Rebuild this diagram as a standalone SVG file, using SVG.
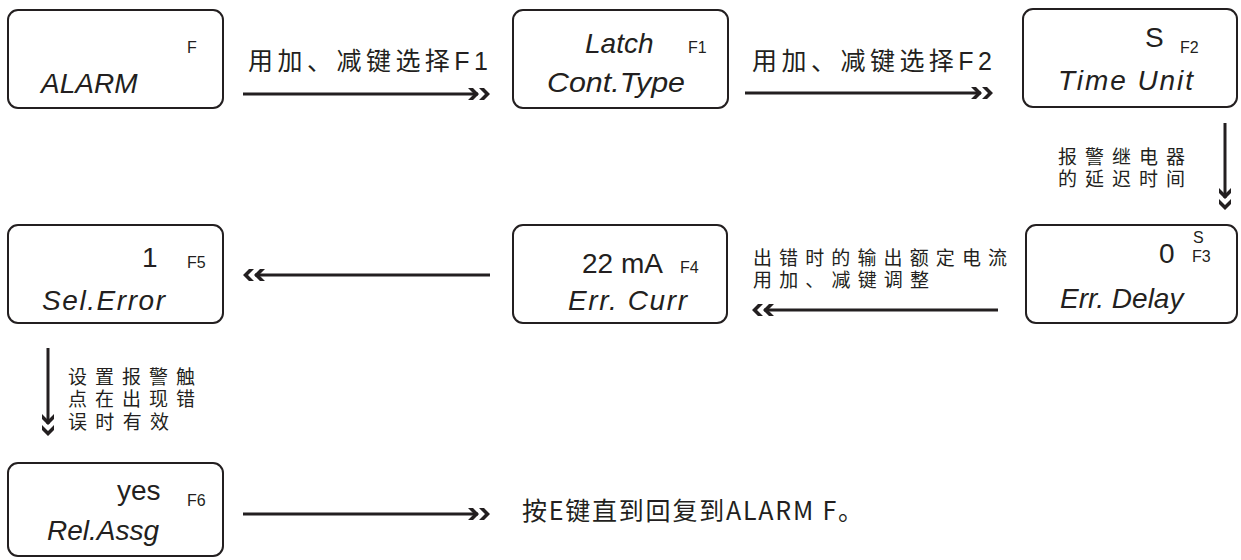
<svg xmlns="http://www.w3.org/2000/svg" xmlns:xlink="http://www.w3.org/1999/xlink" width="1241" height="560" viewBox="0 0 1241 560">
<style>
.box{fill:#fff;stroke:#231f20;stroke-width:2}
.lab{font-family:"Liberation Sans",Arial,sans-serif;font-style:italic;font-size:28px;fill:#231f20}
.val{font-family:"Liberation Sans",Arial,sans-serif;font-size:28px;fill:#231f20}
.sm{font-family:"Liberation Sans",Arial,sans-serif;font-size:16px;fill:#231f20}
.cn{font-family:"Liberation Sans","Noto Sans CJK SC",sans-serif;font-size:25px;fill:#231f20}
.cn2{font-family:"Liberation Sans","Noto Sans CJK SC",sans-serif;font-size:19px;fill:#231f20}
.end{font-family:"Noto Sans CJK SC",sans-serif;font-size:25px;fill:#231f20}
.ln{stroke:#231f20;stroke-width:3;fill:none}
</style>
<defs>
<path id="chev" d="M-22,-6 L-17,-6 L-11,0 L-17,6 L-22,6 L-16,0 Z M-11,-6 L-6,-6 L0,0 L-6,6 L-11,6 L-5,0 Z" fill="#231f20"/>
</defs>
<rect width="1241" height="560" fill="#fff"/>

<g id="connectors">
  <line class="ln" x1="243" y1="94" x2="478" y2="94"/>
  <use xlink:href="#chev" transform="translate(490,94)"/>
  <line class="ln" x1="745" y1="93" x2="981" y2="93"/>
  <use xlink:href="#chev" transform="translate(993,93)"/>
  <line class="ln" x1="1225" y1="123" x2="1225" y2="198"/>
  <use xlink:href="#chev" transform="translate(1225,210) rotate(90)"/>
  <line class="ln" x1="998" y1="310" x2="764" y2="310"/>
  <use xlink:href="#chev" transform="translate(752,310) rotate(180)"/>
  <line class="ln" x1="490" y1="275" x2="255" y2="275"/>
  <use xlink:href="#chev" transform="translate(243,275) rotate(180)"/>
  <line class="ln" x1="48" y1="348" x2="48" y2="424"/>
  <use xlink:href="#chev" transform="translate(48,436) rotate(90)"/>
  <line class="ln" x1="243" y1="514" x2="478" y2="514"/>
  <use xlink:href="#chev" transform="translate(490,514)"/>

  <text class="cn" x="248" y="70" textLength="240" lengthAdjust="spacing">用加、减键选择F1</text>
  <text class="cn" x="752" y="70" textLength="240" lengthAdjust="spacing">用加、减键选择F2</text>
  <text class="cn2" x="1058" y="164" textLength="127" lengthAdjust="spacing">报警继电器</text>
  <text class="cn2" x="1058" y="186" textLength="127" lengthAdjust="spacing">的延迟时间</text>
  <text class="cn2" x="753" y="265" textLength="254" lengthAdjust="spacing">出错时的输出额定电流</text>
  <text class="cn2" x="753" y="287" textLength="176" lengthAdjust="spacing">用加、减键调整</text>
  <text class="cn2" x="68" y="384" textLength="127" lengthAdjust="spacing">设置报警触</text>
  <text class="cn2" x="68" y="406" textLength="127" lengthAdjust="spacing">点在出现错</text>
  <text class="cn2" x="68" y="429" textLength="101" lengthAdjust="spacing">误时有效</text>
  <text class="end" x="522" y="520" textLength="341" lengthAdjust="spacing">按E键直到回复到ALARM F。</text>
</g>

<g id="node-alarm">
  <rect class="box" x="8" y="10" width="215" height="98" rx="10"/>
  <text class="sm" x="187" y="53" font-size="17">F</text>
  <text class="lab" x="41" y="93" font-size="29">ALARM</text>
</g>

<g id="node-f1">
  <rect class="box" x="513" y="10" width="215" height="98" rx="10"/>
  <text class="lab" x="585" y="53">Latch</text>
  <text class="sm" x="688" y="53">F1</text>
  <text class="lab" x="547" y="92" textLength="138" lengthAdjust="spacingAndGlyphs">Cont.Type</text>
</g>

<g id="node-f2">
  <rect class="box" x="1023" y="9" width="214" height="98" rx="10"/>
  <text class="val" x="1145" y="47" font-size="27">S</text>
  <text class="sm" x="1180" y="53">F2</text>
  <text class="lab" x="1058" y="90" textLength="135" lengthAdjust="spacing">Time Unit</text>
</g>

<g id="node-f3">
  <rect class="box" x="1026" y="225" width="211" height="98" rx="10"/>
  <text class="val" x="1159" y="263" font-size="27">0</text>
  <text class="sm" x="1193" y="243">S</text>
  <text class="sm" x="1192" y="262">F3</text>
  <text class="lab" x="1060" y="308" font-size="29">Err. Delay</text>
</g>

<g id="node-f4">
  <rect class="box" x="513" y="225" width="214" height="98" rx="10"/>
  <text class="val" x="582" y="273" font-size="29">22 mA</text>
  <text class="sm" x="680" y="273">F4</text>
  <text class="lab" x="568" y="310" textLength="119" lengthAdjust="spacing">Err. Curr</text>
</g>

<g id="node-f5">
  <rect class="box" x="8" y="225" width="215" height="98" rx="10"/>
  <text class="val" x="142" y="267">1</text>
  <text class="sm" x="187" y="268" font-size="17">F5</text>
  <text class="lab" x="42" y="310" textLength="123" lengthAdjust="spacing">Sel.Error</text>
</g>

<g id="node-f6">
  <rect class="box" x="8" y="463" width="215" height="93" rx="10"/>
  <text class="val" x="117" y="500">yes</text>
  <text class="sm" x="187" y="506" font-size="17">F6</text>
  <text class="lab" x="47" y="540">Rel.Assg</text>
</g>
</svg>
